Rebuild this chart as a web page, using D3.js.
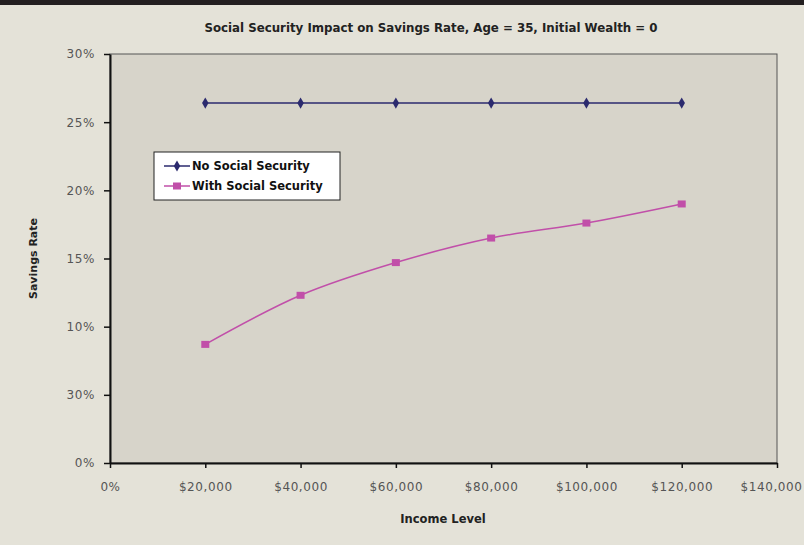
<!DOCTYPE html>
<html>
<head>
<meta charset="utf-8">
<script src="https://cdn.jsdelivr.net/npm/d3@7"></script>
<style>
  html, body { margin: 0; padding: 0; background: #e4e2d8; }
  #visualization { width: 804px; height: 545px; overflow: hidden; }
  text { font-family: "DejaVu Sans", sans-serif; }
</style>
</head>
<body>
<div id="visualization"></div>
<script>
// chart data
const incomes = [20000, 40000, 60000, 80000, 100000, 120000];
const noSocialSecurity = [26.4, 26.4, 26.4, 26.4, 26.4, 26.4];
const withSocialSecurity = [8.7, 12.3, 14.7, 16.5, 17.6, 19.0];
const xTickValues = [0, 20000, 40000, 60000, 80000, 100000, 120000, 140000];
const xTickLabels = ['0%', '$20,000', '$40,000', '$60,000', '$80,000', '$100,000', '$120,000', '$140,000'];
const yTickValues = [0, 5, 10, 15, 20, 25, 30];
const yTickLabels = ['0%', '30%', '10%', '15%', '20%', '25%', '30%'];
const seriesNames = ['No Social Security', 'With Social Security'];

document.addEventListener('DOMContentLoaded', () => {
    const width = 804;
    const height = 545;
    const margin = { top: 54, right: 27, bottom: 82, left: 110 };

    const svg = d3.select('#visualization')
        .append('svg')
        .attr('width', width)
        .attr('height', height);

    // page background and dark strip at the top
    svg.append('rect').attr('width', width).attr('height', height).attr('fill', '#e4e2d8');
    svg.append('rect').attr('width', width).attr('height', 5).attr('fill', '#231f20');

    const xScale = d3.scaleLinear()
        .domain([0, 140000])
        .range([margin.left, width - margin.right]);

    const yScale = d3.scaleLinear()
        .domain([0, 30])
        .range([height - margin.bottom, margin.top]);

    // plot area
    svg.append('rect')
        .attr('x', xScale(0))
        .attr('y', yScale(30))
        .attr('width', xScale(140000) - xScale(0))
        .attr('height', yScale(0) - yScale(30))
        .attr('fill', '#d7d4ca')
        .attr('stroke', '#555')
        .attr('stroke-width', 1);

    // title
    svg.append('text')
        .attr('x', 431)
        .attr('y', 32)
        .attr('text-anchor', 'middle')
        .attr('font-size', 11.8)
        .attr('font-weight', 'bold')
        .attr('fill', '#222')
        .text('Social Security Impact on Savings Rate, Age = 35, Initial Wealth = 0');

    // axes
    const xAxis = svg.append('g')
        .attr('transform', `translate(0,${yScale(0)})`)
        .call(d3.axisBottom(xScale)
            .tickValues(xTickValues)
            .tickFormat((d, i) => xTickLabels[i])
            .tickSize(5)
            .tickSizeOuter(0)
            .tickPadding(14));

    const yAxis = svg.append('g')
        .attr('transform', `translate(${xScale(0)},0)`)
        .call(d3.axisLeft(yScale)
            .tickValues(yTickValues)
            .tickFormat((d, i) => yTickLabels[i])
            .tickSize(6)
            .tickSizeOuter(0)
            .tickPadding(9));

    [xAxis, yAxis].forEach(ax => {
        ax.select('.domain').attr('stroke', '#111').attr('stroke-width', 2);
        ax.selectAll('.tick line').attr('stroke', '#111').attr('stroke-width', 1.5);
        ax.selectAll('.tick text')
            .attr('font-size', 12)
            .attr('fill', '#555')
            .style('letter-spacing', '0.6px')
            .style('font-family', '"DejaVu Sans", sans-serif');
    });

    // keep the last x label inside the page
    xAxis.selectAll('.tick text')
        .filter(d => d === 140000)
        .attr('text-anchor', 'end')
        .attr('x', width - 2 - xScale(140000));

    // axis titles
    svg.append('text')
        .attr('x', 443)
        .attr('y', 523)
        .attr('text-anchor', 'middle')
        .attr('font-size', 11.5)
        .attr('font-weight', 'bold')
        .attr('fill', '#222')
        .text('Income Level');

    svg.append('text')
        .attr('transform', `translate(37,${(yScale(0) + yScale(30)) / 2}) rotate(-90)`)
        .attr('text-anchor', 'middle')
        .attr('font-size', 11)
        .attr('font-weight', 'bold')
        .attr('fill', '#222')
        .text('Savings Rate');

    // lines
    const blue = '#2b2a6e';
    const pink = '#c14fa9';

    const lineNo = d3.line()
        .x((d, i) => xScale(incomes[i]))
        .y(d => yScale(d));

    const lineWith = d3.line()
        .x((d, i) => xScale(incomes[i]))
        .y(d => yScale(d))
        .curve(d3.curveMonotoneX);

    svg.append('path')
        .attr('d', lineNo(noSocialSecurity))
        .attr('fill', 'none')
        .attr('stroke', blue)
        .attr('stroke-width', 1.5);

    svg.append('path')
        .attr('d', lineWith(withSocialSecurity))
        .attr('fill', 'none')
        .attr('stroke', pink)
        .attr('stroke-width', 1.5);

    const diamond = d3.symbol().type(d3.symbolDiamond).size(36);

    svg.selectAll('.mark-no')
        .data(noSocialSecurity)
        .enter()
        .append('path')
        .attr('class', 'mark-no')
        .attr('d', diamond)
        .attr('transform', (d, i) => `translate(${xScale(incomes[i])},${yScale(d)})`)
        .attr('fill', blue);

    svg.selectAll('.mark-with')
        .data(withSocialSecurity)
        .enter()
        .append('rect')
        .attr('class', 'mark-with')
        .attr('x', (d, i) => xScale(incomes[i]) - 4)
        .attr('y', d => yScale(d) - 3.5)
        .attr('width', 8)
        .attr('height', 7)
        .attr('fill', pink);

    // legend
    const legend = svg.append('g').attr('transform', 'translate(154,152)');
    legend.append('rect')
        .attr('width', 186)
        .attr('height', 48)
        .attr('fill', '#fff')
        .attr('stroke', '#222')
        .attr('stroke-width', 1);

    const legendItems = [
        { name: seriesNames[0], color: blue, shape: 'diamond' },
        { name: seriesNames[1], color: pink, shape: 'square' }
    ];

    legendItems.forEach((item, i) => {
        const g = legend.append('g').attr('transform', `translate(0,${14 + i * 20})`);
        g.append('line')
            .attr('x1', 10).attr('x2', 36)
            .attr('y1', 0).attr('y2', 0)
            .attr('stroke', item.color)
            .attr('stroke-width', 1.5);
        if (item.shape === 'diamond') {
            g.append('path').attr('d', diamond).attr('transform', 'translate(23,0)').attr('fill', item.color);
        } else {
            g.append('rect').attr('x', 19).attr('y', -3.5).attr('width', 8).attr('height', 7).attr('fill', item.color);
        }
        g.append('text')
            .attr('x', 38)
            .attr('y', 4)
            .attr('font-size', 11.5)
            .attr('font-weight', 'bold')
            .attr('fill', '#111')
            .text(item.name);
    });
});
</script>
</body>
</html>
